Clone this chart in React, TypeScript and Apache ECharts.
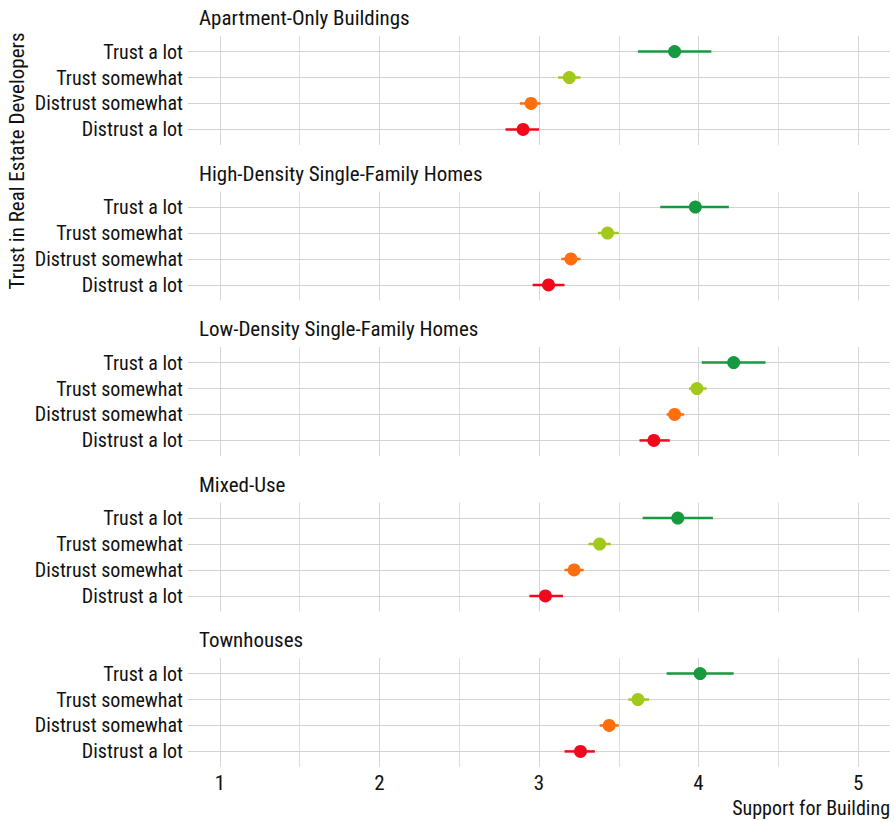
import React, { useEffect, useRef } from "react";
import * as echarts from "echarts";

const categories = ["Distrust a lot", "Distrust somewhat", "Trust somewhat", "Trust a lot"];
const panelTitles = [
  "Apartment-Only Buildings",
  "High-Density Single-Family Homes",
  "Low-Density Single-Family Homes",
  "Mixed-Use",
  "Townhouses",
];
const colors = ["#f2071c", "#ff6e0c", "#a3c81c", "#17993f"];

// values ordered as categories (Distrust a lot -> Trust a lot)
const apartmentMean = [2.9, 2.95, 3.19, 3.85];
const apartmentLow = [2.79, 2.88, 3.12, 3.62];
const apartmentHigh = [3.0, 3.01, 3.26, 4.08];

const highDensityMean = [3.06, 3.2, 3.43, 3.98];
const highDensityLow = [2.96, 3.14, 3.37, 3.76];
const highDensityHigh = [3.16, 3.26, 3.5, 4.19];

const lowDensityMean = [3.72, 3.85, 3.99, 4.22];
const lowDensityLow = [3.63, 3.8, 3.94, 4.02];
const lowDensityHigh = [3.82, 3.91, 4.05, 4.42];

const mixedUseMean = [3.04, 3.22, 3.38, 3.87];
const mixedUseLow = [2.94, 3.16, 3.31, 3.65];
const mixedUseHigh = [3.15, 3.28, 3.45, 4.09];

const townhouseMean = [3.26, 3.44, 3.62, 4.01];
const townhouseLow = [3.16, 3.38, 3.56, 3.8];
const townhouseHigh = [3.35, 3.5, 3.69, 4.22];

const xTicks = [1, 2, 3, 4, 5];
const xGridValues = [1, 1.5, 2, 2.5, 3, 3.5, 4, 4.5, 5];

const panelData = [
  [apartmentMean, apartmentLow, apartmentHigh],
  [highDensityMean, highDensityLow, highDensityHigh],
  [lowDensityMean, lowDensityLow, lowDensityHigh],
  [mixedUseMean, mixedUseLow, mixedUseHigh],
  [townhouseMean, townhouseLow, townhouseHigh],
];

const FONT = "'Roboto Condensed', 'Liberation Sans', sans-serif";
const TEXT = "#111111";

export default function App() {
  const ref = useRef<HTMLDivElement>(null);
  useEffect(() => {
    if (!ref.current) return;
    const chart = echarts.init(ref.current, null, { renderer: "svg" });
    const grids: any[] = [];
    const xAxes: any[] = [];
    const yAxes: any[] = [];
    const series: any[] = [];
    const graphics: any[] = [];
    const isInt = (v: number) => Math.abs(v - Math.round(v)) < 1e-6;
    panelTitles.forEach((title, i) => {
      const top = 36 + i * 155.5;
      grids.push({ left: 188, right: 5, top, height: 109 });
      xAxes.push({
        type: "value",
        gridIndex: i,
        min: 0.8,
        max: 5.2,
        splitNumber: 4,
        axisLine: { show: false },
        axisTick: { show: false },
        splitLine: { show: false },
        axisLabel: {
          show: i === panelTitles.length - 1,
          margin: 5,
          fontFamily: FONT,
          fontSize: 21,
          color: TEXT,
          formatter: (v: number) => (isInt(v) && xTicks.includes(Math.round(v)) ? String(Math.round(v)) : ""),
        },
      });
      yAxes.push({
        type: "value",
        gridIndex: i,
        min: -0.6,
        max: 3.6,
        splitNumber: 4,
        axisLine: { show: false },
        axisTick: { show: false },
        splitLine: { show: false },
        axisLabel: {
          margin: 5,
          fontFamily: FONT,
          fontSize: 20,
          color: TEXT,
          formatter: (v: number) => {
            if (!isInt(v)) return "";
            const k = Math.round(v);
            return categories[k] ?? "";
          },
        },
      });
      // grid lines
      series.push({
        type: "scatter",
        xAxisIndex: i,
        yAxisIndex: i,
        data: [[1, 0]],
        symbolSize: 0,
        silent: true,
        z: 1,
        markLine: {
          silent: true,
          symbol: ["none", "none"],
          label: { show: false },
          animation: false,
          data: [
            ...xGridValues.map((x) => ({
              xAxis: x,
              lineStyle: { color: isInt(x) ? "#d6d6d6" : "#dedede", width: 1, type: "solid" },
            })),
            ...categories.map((_, k) => ({
              yAxis: k,
              lineStyle: { color: "#d2d2d2", width: 1, type: "solid" },
            })),
          ],
        },
      });
      const [means, lows, highs] = panelData[i];
      series.push({
        type: "custom",
        xAxisIndex: i,
        yAxisIndex: i,
        z: 5,
        clip: false,
        data: categories.map((_, k) => [lows[k], highs[k], k, means[k]]),
        encode: { x: [0, 1, 3], y: 2 },
        renderItem: (params: any, api: any) => {
          const y = api.value(2);
          const p1 = api.coord([api.value(0), y]);
          const p2 = api.coord([api.value(1), y]);
          const pm = api.coord([api.value(3), y]);
          const color = colors[y];
          return {
            type: "group",
            children: [
              {
                type: "line",
                shape: { x1: p1[0], y1: p1[1], x2: p2[0], y2: p2[1] },
                style: { stroke: color, lineWidth: 2.5 },
              },
              {
                type: "circle",
                shape: { cx: pm[0], cy: pm[1], r: 6.5 },
                style: { fill: color },
              },
            ],
          };
        },
      });
      graphics.push({
        type: "text",
        x: 199,
        y: top - 18,
        style: {
          text: title,
          font: `21px ${FONT}`,
          fill: TEXT,
          textAlign: "left",
          textVerticalAlign: "middle",
        },
      });
    });
    graphics.push({
      type: "text",
      x: 17,
      y: 161,
      rotation: Math.PI / 2,
      style: {
        text: "Trust in Real Estate Developers",
        font: `21px ${FONT}`,
        fill: TEXT,
        textAlign: "center",
        textVerticalAlign: "middle",
      },
    });
    graphics.push({
      type: "text",
      x: 890,
      y: 808,
      style: {
        text: "Support for Building",
        font: `20px ${FONT}`,
        fill: TEXT,
        textAlign: "right",
        textVerticalAlign: "middle",
      },
    });
    chart.setOption({
      animation: false,
      backgroundColor: "#ffffff",
      grid: grids,
      xAxis: xAxes,
      yAxis: yAxes,
      series,
      graphic: graphics,
    });
    return () => chart.dispose();
  }, []);
  return (
    <div
      ref={ref}
      style={{ position: "absolute", left: 0, top: 0, width: 895, height: 822 }}
    />
  );
}
